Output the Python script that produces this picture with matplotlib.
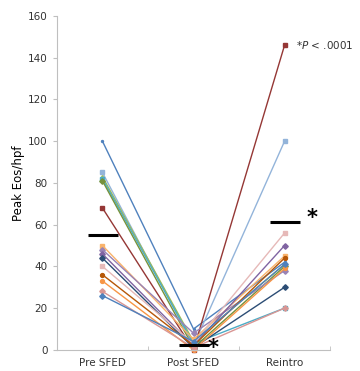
import matplotlib.pyplot as plt
import numpy as np

categories = ['Pre SFED', 'Post SFED', 'Reintro']

# one entry per patient
pre = [100, 85, 83, 82, 81, 68, 50, 48, 46, 44, 40, 36, 33, 28, 26]
post = [10, 2, 4, 3, 1, 0, 5, 8, 2, 1, 3, 2, 0, 1, 4]
reintro = [42, 100, 41, 20, 40, 146, 45, 38, 50, 30, 56, 44, 39, 20, 41]
colors = ['#4F81BD', '#93B4DA', '#9BBB59', '#4BACC6', '#76923C', '#953735',
          '#F9B36B', '#9983B5', '#8064A2', '#2C4D75', '#E6B9B8', '#B65708',
          '#F79646', '#D99694', '#4F81BD']
markers = ['.', 's', '^', 's', 'D', 's', 's', 'D', 'D', 'D', 's', 'o', 'o', 'D', 'D']

means = [55, 2.5, 61.5]

fig = plt.figure(figsize=(3.6, 3.71), dpi=100)
ax = fig.add_axes([0.158, 0.057, 0.759, 0.9])

xs = np.arange(len(categories))
for i in range(len(pre)):
    ax.plot(xs, [pre[i], post[i], reintro[i]], color=colors[i], lw=1.0,
            marker=markers[i], ms=2.8, clip_on=False, zorder=2)

# mean bars
for x, m in zip(xs, means):
    ax.hlines(m, x - 0.16, x + 0.17, color='black', lw=2.2, zorder=3)

ax.text(1.22, 1.0, '*', fontsize=15, fontweight='bold', ha='center', va='center')
ax.text(2.3, 63, '*', fontsize=15, fontweight='bold', ha='center', va='center')
ax.text(2.12, 146, '*$\\it{P}$ < .0001', fontsize=7.5, color='#333333', va='center')

ax.set_xlim(-0.5, 2.5)
ax.set_ylim(0, 160)
ax.set_yticks(range(0, 161, 20))
ax.set_xticks(xs)
ax.set_xticklabels(categories, fontsize=7.5, color='#333333')
ax.set_xticks([-0.5, 0.5, 1.5, 2.5], minor=True)
ax.tick_params(axis='x', which='major', length=0, pad=6)
ax.tick_params(axis='x', which='minor', length=3, direction='in', color='#BFBFBF')
ax.tick_params(axis='y', labelsize=7.5, labelcolor='#333333', length=3, color='#BFBFBF')
ax.set_ylabel('Peak Eos/hpf', fontsize=8.5, labelpad=2)

for s in ['top', 'right']:
    ax.spines[s].set_visible(False)
for s in ['left', 'bottom']:
    ax.spines[s].set_color('#BFBFBF')

fig.savefig('out.png', dpi=100)
